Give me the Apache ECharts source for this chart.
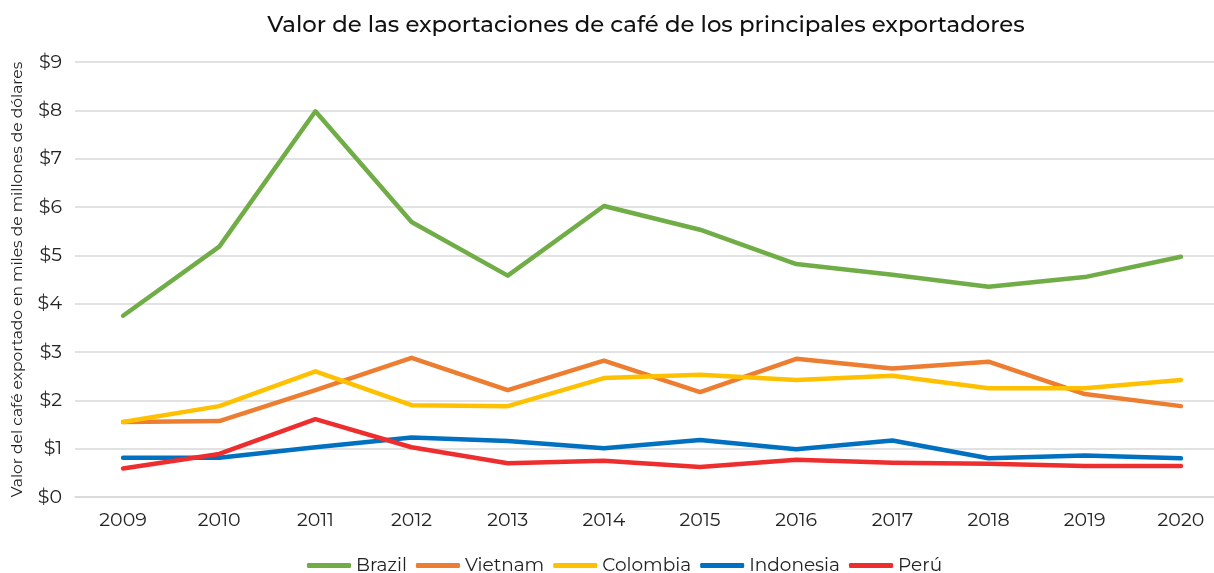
<!DOCTYPE html>
<html>
<head>
<meta charset="utf-8">
<script src="https://cdn.jsdelivr.net/npm/echarts@6/dist/echarts.min.js"></script>
<style>
  html, body { margin: 0; padding: 0; background: #fff; }
  #main { width: 1214px; height: 573px; }
</style>
</head>
<body>
<div id="main"></div>
<script>
const years = ['2009', '2010', '2011', '2012', '2013', '2014', '2015', '2016', '2017', '2018', '2019', '2020']
const brazil = [3.75, 5.18, 7.98, 5.69, 4.58, 6.02, 5.53, 4.82, 4.6, 4.35, 4.55, 4.97]
const vietnam = [1.55, 1.57, 2.21, 2.88, 2.21, 2.82, 2.17, 2.86, 2.66, 2.8, 2.13, 1.88]
const colombia = [1.55, 1.88, 2.6, 1.9, 1.88, 2.46, 2.53, 2.42, 2.51, 2.25, 2.25, 2.42]
const indonesia = [0.81, 0.81, 1.03, 1.23, 1.16, 1.01, 1.18, 0.99, 1.17, 0.8, 0.86, 0.8]
const peru = [0.59, 0.89, 1.61, 1.03, 0.7, 0.75, 0.62, 0.77, 0.71, 0.69, 0.64, 0.64]

const font = 'Montserrat, "Open Sans", "Noto Sans", sans-serif'

function line(name, data, color) {
    return {
        name: name,
        type: 'line',
        data: data,
        symbol: 'none',
        lineStyle: { width: 4.5, color: color, cap: 'round', join: 'round' },
        itemStyle: { color: color }
    }
}

const myChart = echarts.init(document.getElementById('main'))
myChart.setOption({
    animation: false,
    textStyle: { fontFamily: font },
    title: {
        text: 'Valor de las exportaciones de café de los principales exportadores',
        left: 641,
        top: 9,
        textAlign: 'center',
        textStyle: { color: '#111', fontSize: 22.8, fontWeight: 500, fontFamily: font }
    },
    legend: {
        top: 551,
        left: 302,
        itemWidth: 44,
        itemHeight: 5,
        itemGap: 9,
        icon: 'roundRect',
        textStyle: { fontSize: 18.5, color: '#222' },
        data: ['Brazil', 'Vietnam', 'Colombia', 'Indonesia', 'Perú']
    },
    grid: { left: 75, top: 62, width: 1154, height: 435, outerBoundsMode: 'none' },
    xAxis: {
        type: 'category',
        data: years,
        boundaryGap: true,
        axisLine: { lineStyle: { color: '#d9d9d9', width: 1.5 } },
        axisTick: { show: false },
        axisLabel: { color: '#222', fontSize: 19, margin: 14 }
    },
    yAxis: {
        type: 'value',
        min: 0,
        max: 9,
        interval: 1,
        name: 'Valor del café exportado en miles de millones de dólares',
        nameLocation: 'middle',
        nameGap: 50,
        nameTextStyle: { color: '#222', fontSize: 15.5 },
        axisLabel: { color: '#222', fontSize: 19, margin: 13, formatter: '${value}' },
        splitLine: { lineStyle: { color: '#d9d9d9', width: 1.5 } }
    },
    series: [
        line('Brazil', brazil, '#70AD47'),
        line('Vietnam', vietnam, '#ED7D31'),
        line('Colombia', colombia, '#FFC000'),
        line('Indonesia', indonesia, '#0070C0'),
        line('Perú', peru, '#EE2E2E')
    ]
})
</script>
</body>
</html>
